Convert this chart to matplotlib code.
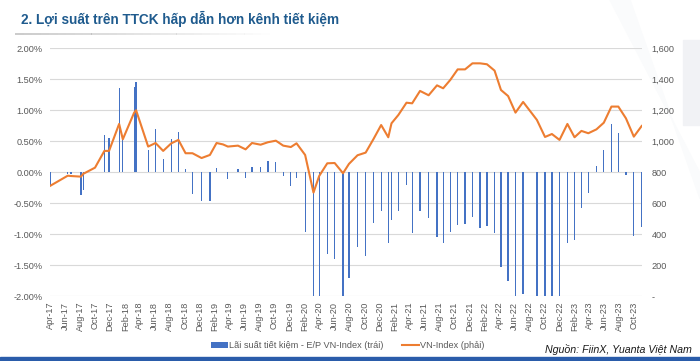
import pandas as pd
import matplotlib
matplotlib.use("Agg")
import matplotlib.pyplot as plt
import matplotlib.dates as mdates
from matplotlib.ticker import FuncFormatter, MultipleLocator
from matplotlib.patches import Patch, Rectangle, Polygon
from matplotlib.lines import Line2D

plt.rcParams['font.family'] = ['Liberation Sans', 'DejaVu Sans']

# Observation dates (irregular, as in the source workbook)
dates = ["2017-04-01", "2017-06-12", "2017-06-25", "2017-08-05", "2017-08-14",
         "2017-10-01", "2017-11-08", "2017-11-27", "2018-01-07", "2018-01-22",
         "2018-03-09", "2018-03-17", "2018-05-05", "2018-06-04", "2018-07-05",
         "2018-08-07", "2018-09-05", "2018-10-04", "2018-11-01", "2018-12-08",
         "2019-01-11", "2019-02-07", "2019-03-05", "2019-03-25", "2019-05-05",
         "2019-06-05", "2019-07-01", "2019-08-05", "2019-09-04", "2019-10-06",
         "2019-11-05", "2019-12-06", "2019-12-29", "2020-02-02", "2020-03-07",
         "2020-03-30", "2020-05-02", "2020-06-01", "2020-07-05", "2020-07-29",
         "2020-09-02", "2020-10-05", "2020-11-06", "2020-12-07", "2021-01-05",
         "2021-01-18", "2021-02-15", "2021-03-20", "2021-04-12", "2021-05-14",
         "2021-06-18", "2021-07-22", "2021-08-16", "2021-09-14", "2021-10-14",
         "2021-11-13", "2021-12-13", "2022-01-13", "2022-02-10", "2022-03-13",
         "2022-04-08", "2022-05-07", "2022-06-06", "2022-07-07", "2022-08-04",
         "2022-09-01", "2022-10-04", "2022-11-01", "2022-12-02", "2023-01-03",
         "2023-02-01", "2023-03-01", "2023-03-29", "2023-05-01", "2023-05-31",
         "2023-07-01", "2023-07-29", "2023-08-29", "2023-09-30", "2023-11-01"]

# Savings rate - E/P of VN-Index, in percent (left axis)
gap = [-0.215, -0.02, -0.03, -0.366, -0.285,
       0.01, 0.608, 0.554, 1.355, 0.57,
       1.371, 1.457, 0.36, 0.704, 0.215,
       0.532, 0.65, 0.06, -0.355, -0.468,
       -0.462, 0.065, 0.005, -0.113, 0.048,
       -0.086, 0.091, 0.086, 0.177, 0.167,
       -0.054, -0.215, -0.086, -0.968, -2.4,
       -2.3, -1.323, -1.398, -2.2, -1.71,
       -1.21, -1.344, -0.812, -0.624, -1.145,
       -0.774, -0.618, -0.204, -0.973, -0.618,
       -0.737, -1.045, -1.134, -0.957, -0.85,
       -0.839, -0.715, -0.903, -0.866, -0.984,
       -1.522, -1.747, -2.1, -1.968, None,
       -2.2, -2.3, -2.3, -2.2, -1.145,
       -1.091, -0.58, -0.339, 0.102, 0.36,
       0.78, 0.629, -0.043, -1.022, -0.887]

# VN-Index level (right axis)
vnindex = [712, 778, 776, 772, 790,
           830, 938, 938, 1112, 1013,
           1185, 1200, 966, 989, 938,
           987, 1009, 923, 923, 892,
           912, 989, 980, 966, 972,
           948, 989, 978, 994, 1004,
           972, 963, 987, 912, 669,
           776, 858, 860, 794, 854,
           910, 927, 1015, 1105, 1026,
           1116, 1170, 1249, 1245, 1325,
           1297, 1361, 1342, 1396, 1464,
           1464, 1503, 1503, 1497, 1456,
           1331, 1292, 1185, 1254, 1196,
           1138, 1028, 1047, 1009, 1112,
           1026, 1067, 1052, 1077, 1120,
           1224, 1224, 1148, 1030, 1099]

df = pd.DataFrame({"date": pd.to_datetime(dates), "gap": gap, "vni": vnindex})
bars = df.dropna(subset=["gap"])

fig = plt.figure(figsize=(7.0, 3.61), dpi=100)
fig.patch.set_facecolor("white")

# faint background shapes
fig.patches.append(Rectangle((683/700, 1 - 125/361), 17/700, 85/361,
                             transform=fig.transFigure, color="#f1f2f5", zorder=-2))
fig.patches.append(Polygon([(610/700, 1), (630/700, 1), (700/700, 0.45), (700/700, 0.52)],
                           closed=True, transform=fig.transFigure, color="#fafbfc", zorder=-3))
# bottom band
fig.patches.append(Rectangle((0, 0), 1, 4/361, transform=fig.transFigure,
                             color="#2a5caa", zorder=-1))

ax = fig.add_axes([50/700, 1 - 296.3/361, 591.7/700, 248/361])
ax.patch.set_alpha(0)

ax.bar(bars["date"], bars["gap"] / 100, width=5, color="#4472C4", zorder=2)
ax.set_ylim(-0.02, 0.02)
ax.yaxis.set_major_locator(MultipleLocator(0.005))
ax.yaxis.set_major_formatter(FuncFormatter(lambda v, p: f"{v*100:.2f}%"))
ax.grid(axis="y", color="#d9d9d9", linewidth=0.8)
ax.set_axisbelow(True)

ax.set_xlim(pd.Timestamp("2017-04-01"), pd.Timestamp("2023-11-01"))
ax.xaxis.set_major_locator(mdates.MonthLocator(bymonth=[2, 4, 6, 8, 10, 12]))
ax.xaxis.set_major_formatter(mdates.DateFormatter("%b-%y"))

ax2 = ax.twinx()
ax2.plot(df["date"], df["vni"], color="#ED7D31", linewidth=1.5, zorder=3)
ax2.set_ylim(0, 1600)
ax2.yaxis.set_major_locator(MultipleLocator(200))
ax2.yaxis.set_major_formatter(FuncFormatter(lambda v, p: "-" if v == 0 else f"{v:,.0f}"))

for a in (ax, ax2):
    for s in a.spines.values():
        s.set_visible(False)
    a.tick_params(length=0, colors="#595959", labelsize=6.6)
ax.tick_params(axis="y", pad=5.5)
ax2.tick_params(axis="y", pad=7)
ax.tick_params(axis="x", pad=4, labelrotation=90)

# legend
handles = [Patch(facecolor="#4472C4", edgecolor="none"),
           Line2D([0], [0], color="#ED7D31", linewidth=1.5)]
labels = ["Lãi suất tiết kiệm - E/P VN-Index (trái)", "VN-Index (phải)"]
fig.legend(handles, labels, loc="center", bbox_to_anchor=(0.497, 0.042), ncol=2,
           frameon=False, fontsize=6.6, handlelength=1.8, handleheight=0.5,
           handletextpad=0.15, columnspacing=2.0, labelcolor="#595959")

# source
fig.text(0.988, 0.033, "Nguồn: FiinX, Yuanta Việt Nam", ha="right", va="center",
         fontsize=7.7, style="italic", color="#1a1a1a")

# title with soft underline
fig.text(21/700, 1 - 19/361, "2. Lợi suất trên TTCK hấp dẫn hơn kênh tiết kiệm",
         ha="left", va="center", fontsize=9.8, fontweight="bold", color="#1f5b8e")
n = 30
for i in range(n):
    fig.patches.append(Rectangle((15/700 + i * (255/700) / n, 1 - 35/361), (255/700) / n, 2/361,
                                 transform=fig.transFigure, color="#9a9a9a",
                                 alpha=0.5 * (1 - i / n), linewidth=0, zorder=-1))

fig.savefig("out.png", dpi=100)
